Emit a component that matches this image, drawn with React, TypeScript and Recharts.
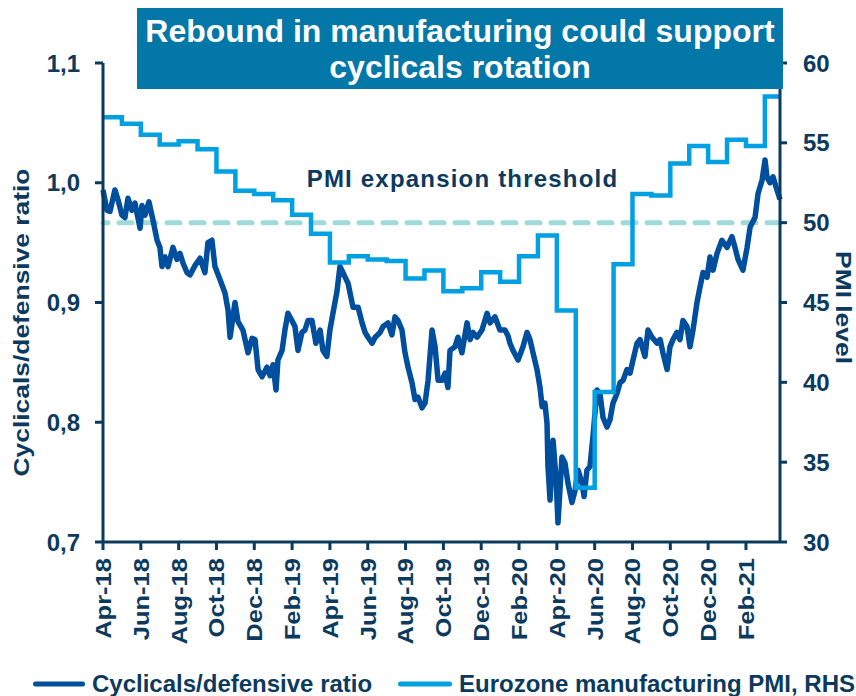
import React from 'react';
import { ComposedChart, Line, XAxis, YAxis, ReferenceLine } from 'recharts';

// ---- Data ----
const tickLabels = ['Apr-18', 'Jun-18', 'Aug-18', 'Oct-18', 'Dec-18', 'Feb-19', 'Apr-19', 'Jun-19', 'Aug-19', 'Oct-19', 'Dec-19', 'Feb-20', 'Apr-20', 'Jun-20', 'Aug-20', 'Oct-20', 'Dec-20', 'Feb-21'];
// months elapsed since start of Apr-2018 at each tick
const tickMonths = tickLabels.map((_, i) => i * 2);
const xEnd = 35.8; // end of time window (months since Apr-2018)

// Eurozone manufacturing PMI, as known at start of each month from Apr-18 (released value)
const pmiValues = [56.6, 56.2, 55.5, 54.9, 55.1, 54.6, 53.2, 52.0, 51.8, 51.4, 50.5, 49.3, 47.5, 47.9, 47.7, 47.6, 46.5, 47.0, 45.7, 45.9, 46.9, 46.3, 47.9, 49.2, 44.5, 33.4, 39.4, 47.4, 51.8, 51.7, 53.7, 54.8, 53.8, 55.2, 54.8, 57.9];

const pmiThreshold = 50;

// Cyclicals/defensive ratio: observation times (months since Apr-2018) and values
const ratioMonths = [0.00, 0.21, 0.37, 0.63, 0.79, 1.00, 1.16, 1.32, 1.53, 1.69, 1.96, 2.06, 2.22, 2.43, 2.64, 2.86, 3.01, 3.12, 3.28, 3.44, 3.70, 3.91, 4.07, 4.23, 4.44, 4.60, 4.87, 5.13, 5.39, 5.55, 5.76, 5.92, 6.19, 6.45, 6.61, 6.72, 6.98, 7.14, 7.40, 7.67, 7.88, 8.04, 8.20, 8.41, 8.67, 8.83, 8.99, 9.15, 9.25, 9.47, 9.62, 9.78, 9.99, 10.15, 10.31, 10.52, 10.68, 10.84, 11.05, 11.26, 11.48, 11.63, 11.84, 12.00, 12.16, 12.37, 12.53, 12.69, 12.96, 13.22, 13.49, 13.70, 13.86, 14.01, 14.23, 14.39, 14.65, 14.81, 15.07, 15.28, 15.44, 15.60, 15.81, 15.97, 16.13, 16.34, 16.50, 16.66, 16.87, 17.03, 17.19, 17.40, 17.56, 17.72, 17.93, 18.09, 18.24, 18.35, 18.61, 18.77, 18.98, 19.25, 19.41, 19.57, 19.78, 20.04, 20.31, 20.47, 20.73, 20.99, 21.26, 21.42, 21.52, 21.68, 21.95, 22.21, 22.42, 22.58, 22.74, 22.95, 23.11, 23.22, 23.37, 23.48, 23.53, 23.64, 23.80, 23.96, 24.06, 24.27, 24.43, 24.59, 24.80, 24.96, 25.12, 25.33, 25.44, 25.59, 25.75, 25.91, 26.12, 26.28, 26.44, 26.65, 26.81, 26.97, 27.18, 27.34, 27.50, 27.71, 27.87, 28.03, 28.24, 28.40, 28.66, 28.82, 29.03, 29.30, 29.46, 29.61, 29.83, 29.98, 30.14, 30.35, 30.51, 30.67, 30.88, 31.04, 31.20, 31.41, 31.57, 31.73, 31.94, 32.10, 32.26, 32.47, 32.73, 33.00, 33.26, 33.42, 33.58, 33.84, 34.06, 34.22, 34.48, 34.64, 34.85, 35.01, 35.11, 35.27, 35.43, 35.64, 35.80];
const ratioValues = [0.994, 0.977, 0.976, 0.994, 0.986, 0.973, 0.971, 0.987, 0.977, 0.983, 0.962, 0.981, 0.973, 0.984, 0.969, 0.952, 0.946, 0.930, 0.938, 0.930, 0.946, 0.936, 0.941, 0.933, 0.925, 0.923, 0.931, 0.937, 0.925, 0.950, 0.952, 0.930, 0.919, 0.908, 0.894, 0.871, 0.900, 0.884, 0.877, 0.858, 0.870, 0.869, 0.844, 0.838, 0.846, 0.839, 0.848, 0.827, 0.852, 0.860, 0.877, 0.891, 0.885, 0.880, 0.860, 0.875, 0.877, 0.885, 0.885, 0.866, 0.877, 0.860, 0.855, 0.877, 0.891, 0.909, 0.930, 0.925, 0.916, 0.896, 0.896, 0.883, 0.875, 0.871, 0.866, 0.871, 0.875, 0.880, 0.883, 0.873, 0.888, 0.885, 0.877, 0.858, 0.846, 0.833, 0.819, 0.821, 0.812, 0.816, 0.835, 0.877, 0.863, 0.835, 0.835, 0.841, 0.829, 0.860, 0.863, 0.871, 0.858, 0.883, 0.869, 0.875, 0.871, 0.877, 0.891, 0.883, 0.888, 0.877, 0.877, 0.872, 0.866, 0.860, 0.852, 0.863, 0.875, 0.869, 0.858, 0.844, 0.829, 0.813, 0.816, 0.799, 0.763, 0.735, 0.785, 0.752, 0.716, 0.771, 0.766, 0.749, 0.733, 0.743, 0.760, 0.749, 0.738, 0.760, 0.763, 0.788, 0.827, 0.824, 0.804, 0.796, 0.802, 0.816, 0.824, 0.833, 0.835, 0.844, 0.841, 0.852, 0.866, 0.869, 0.855, 0.877, 0.871, 0.866, 0.869, 0.858, 0.844, 0.863, 0.869, 0.875, 0.869, 0.885, 0.880, 0.863, 0.877, 0.900, 0.913, 0.925, 0.921, 0.938, 0.927, 0.941, 0.952, 0.946, 0.955, 0.946, 0.936, 0.927, 0.946, 0.963, 0.971, 0.991, 1.002, 1.019, 1.005, 1.000, 1.005, 0.994, 0.986];

const leftTicks = [0.7, 0.8, 0.9, 1.0, 1.1];
const rightTicks = [30, 35, 40, 45, 50, 55, 60];

const titleLines = ['Rebound in manufacturing could support', 'cyclicals rotation'];
const leftTitle = 'Cyclicals/defensive ratio';
const rightTitle = 'PMI level';
const thresholdLabel = 'PMI expansion threshold';
const ratioName = 'Cyclicals/defensive ratio';
const pmiName = 'Eurozone manufacturing PMI, RHS';

// ---- Derived series tables ----
const ratioData = ratioMonths.map((m, i) => ({ m, ratio: ratioValues[i] }));
const pmiData = [
  ...pmiValues.map((v, i) => ({ m: i, pmi: v })),
  { m: xEnd, pmi: pmiValues[pmiValues.length - 1] },
];

// ---- Styles ----
const FONT = '"Liberation Sans", Arial, Helvetica, sans-serif';
const NAVY = '#0c3a5e';
const DARK = '#004e9e';
const LIGHT = '#00a0e3';
const TEAL = '#a0d9da';
const TITLE_BG = '#0277a8';

const XTick = (props: any) => {
  const { x, y, payload } = props;
  const idx = tickMonths.indexOf(payload.value);
  const label = idx >= 0 ? tickLabels[idx] : '';
  return (
    <g transform={`translate(${x},${y})`}>
      <text
        transform="rotate(-90) scale(1.16,1)"
        textAnchor="end"
        dy="0.36em"
        fill={NAVY}
        fontSize={22}
        fontWeight="bold"
        fontFamily={FONT}
      >
        {label}
      </text>
    </g>
  );
};

const fmtLeft = (v: number) => v.toFixed(1).replace('.', ',');

const LeftTitle = (props: any) => {
  const vb = props.viewBox || { x: 0, y: 63, width: 103, height: 479 };
  const cx = vb.x + 29;
  const cy = vb.y + vb.height / 2 + 20;
  return (
    <text
      transform={`translate(${cx},${cy}) rotate(-90) scale(1.2,1)`}
      textAnchor="middle"
      fill={NAVY}
      fontSize={22}
      fontWeight="bold"
      fontFamily={FONT}
    >
      {leftTitle}
    </text>
  );
};

const RightTitle = (props: any) => {
  const vb = props.viewBox || { x: 780, y: 63, width: 76, height: 479 };
  const cx = vb.x + 56;
  const cy = vb.y + vb.height / 2 + 5;
  return (
    <text
      transform={`translate(${cx},${cy}) rotate(90) scale(1.2,1)`}
      textAnchor="middle"
      fill={NAVY}
      fontSize={22}
      fontWeight="bold"
      fontFamily={FONT}
    >
      {rightTitle}
    </text>
  );
};

const ThresholdLabel = (props: any) => {
  const vb = props.viewBox || { x: 103, y: 223, width: 677, height: 0 };
  const cx = vb.x + vb.width / 2 + 21;
  const cy = vb.y - 36;
  return (
    <text
      x={cx}
      y={cy}
      textAnchor="middle"
      fill={NAVY}
      fontSize={24}
      fontWeight="bold"
      fontFamily={FONT}
      letterSpacing={1.2}
    >
      {thresholdLabel}
    </text>
  );
};

export default function App() {
  return (
    <div style={{ position: 'absolute', left: 0, top: 0, width: 856, height: 696, background: '#fff', overflow: 'hidden' }}>
      <ComposedChart width={856} height={696} margin={{ top: 63, right: 0, bottom: 0, left: 0 }}>
        <XAxis
          dataKey="m"
          type="number"
          domain={[0, xEnd]}
          ticks={tickMonths}
          interval={0}
          height={154}
          axisLine={{ stroke: NAVY, strokeWidth: 3 }}
          tickLine={{ stroke: NAVY, strokeWidth: 3 }}
          tickSize={8}
          tickMargin={8}
          tick={<XTick />}
          allowDuplicatedCategory={false}
        />
        <YAxis
          yAxisId="left"
          orientation="left"
          domain={[0.7, 1.1]}
          ticks={leftTicks}
          interval={0}
          width={103}
          tickFormatter={fmtLeft}
          axisLine={{ stroke: NAVY, strokeWidth: 3 }}
          tickLine={{ stroke: NAVY, strokeWidth: 3 }}
          tickSize={8}
          tickMargin={15}
          tick={{ fill: NAVY, fontSize: 24, fontWeight: 'bold', fontFamily: FONT }}
          label={{ content: <LeftTitle /> }}
        />
        <YAxis
          yAxisId="right"
          orientation="right"
          domain={[30, 60]}
          ticks={rightTicks}
          interval={0}
          width={76}
          axisLine={{ stroke: NAVY, strokeWidth: 3 }}
          tickLine={{ stroke: NAVY, strokeWidth: 3 }}
          tickSize={7}
          tickMargin={16}
          tick={{ fill: NAVY, fontSize: 24, fontWeight: 'bold', fontFamily: FONT }}
          label={{ content: <RightTitle /> }}
        />
        <ReferenceLine
          yAxisId="right"
          y={pmiThreshold}
          stroke={TEAL}
          strokeWidth={5}
          strokeDasharray="13 11"
          strokeLinecap="round"
          label={{ content: <ThresholdLabel /> }}
        />
        <Line
          yAxisId="left"
          data={ratioData}
          dataKey="ratio"
          type="linear"
          stroke={DARK}
          strokeWidth={5.5}
          dot={false}
          strokeLinejoin="round"
          isAnimationActive={false}
        />
        <Line
          yAxisId="right"
          data={pmiData}
          dataKey="pmi"
          type="stepAfter"
          stroke={LIGHT}
          strokeWidth={4.5}
          dot={false}
          isAnimationActive={false}
        />
      </ComposedChart>

      {/* Title box */}
      <div
        style={{
          position: 'absolute',
          left: 137,
          top: 8,
          width: 646,
          height: 81,
          background: TITLE_BG,
          color: '#fff',
          fontFamily: FONT,
          fontWeight: 'bold',
          fontSize: 32,
          lineHeight: '36px',
          textAlign: 'center',
          paddingTop: 5,
          boxSizing: 'border-box',
        }}
      >
        {titleLines.map((t) => (
          <div key={t}>{t}</div>
        ))}
      </div>

      {/* Legend */}
      <svg width={856} height={696} style={{ position: 'absolute', left: 0, top: 0, pointerEvents: 'none' }}>
        <line x1={35.5} y1={684} x2={82.5} y2={684} stroke={DARK} strokeWidth={5} strokeLinecap="round" />
        <text x={92} y={692} fill={NAVY} fontSize={24} fontWeight="bold" fontFamily={FONT}>
          {ratioName}
        </text>
        <line x1={400.5} y1={684} x2={449.5} y2={684} stroke={LIGHT} strokeWidth={5} strokeLinecap="round" />
        <text x={459} y={692} fill={NAVY} fontSize={24} fontWeight="bold" fontFamily={FONT}>
          {pmiName}
        </text>
      </svg>
    </div>
  );
}
